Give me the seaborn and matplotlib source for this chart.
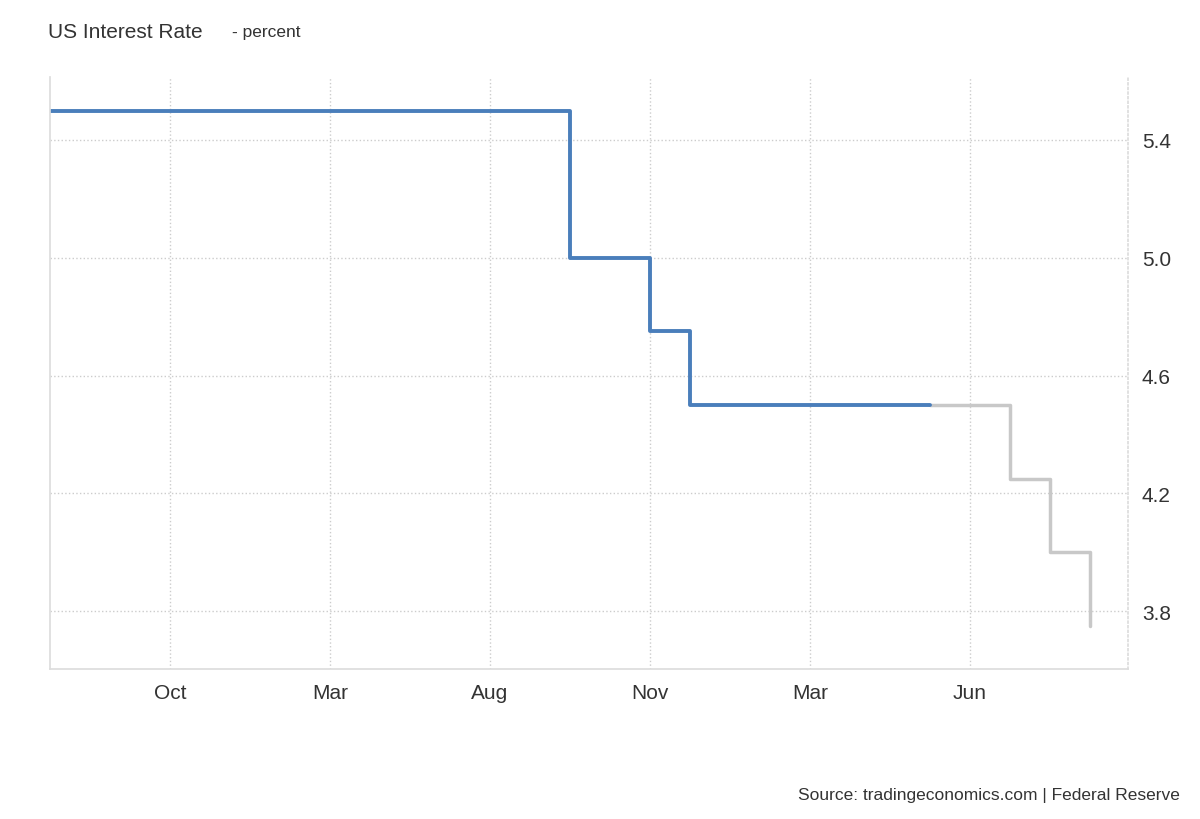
import numpy as np
import pandas as pd
import matplotlib
matplotlib.use("Agg")
import matplotlib.pyplot as plt
import seaborn as sns

# equally spaced observations (FOMC meetings), index positions
actual_idx = list(range(0, 23))
actual_rate = [5.5] * 13 + [5.0, 5.0, 4.75] + [4.5] * 7
forecast_idx = [22, 23, 24, 25, 26]
forecast_rate = [4.5, 4.5, 4.25, 4.0, 3.75]
tick_pos = [3, 7, 11, 15, 19, 23]
tick_labels = ["Oct", "Mar", "Aug", "Nov", "Mar", "Jun"]
y_ticks = [3.8, 4.2, 4.6, 5.0, 5.4]

sns.set_theme(style="white", font="Liberation Sans")
fig = plt.figure(figsize=(12, 8.2), dpi=100)
ax = fig.add_axes([50 / 1200, 1 - 670 / 820, (1128 - 50) / 1200, (670 - 78) / 820])

df_a = pd.DataFrame({"i": actual_idx, "rate": actual_rate})
df_f = pd.DataFrame({"i": forecast_idx, "rate": forecast_rate})
sns.lineplot(data=df_f, x="i", y="rate", ax=ax, color="#c8c8c8", linewidth=2.5,
             drawstyle="steps-post")
sns.lineplot(data=df_a, x="i", y="rate", ax=ax, color="#4a7ebb", linewidth=2.8,
             drawstyle="steps-post")

ax.set_xlim(0, 26.95)
ax.set_ylim(3.603, 5.614)
ax.set_xticks(tick_pos)
ax.set_xticklabels(tick_labels, fontsize=15, color="#333333")
ax.set_yticks(y_ticks)
ax.set_yticklabels([f"{v:.1f}" for v in y_ticks], fontsize=15, color="#333333")
ax.yaxis.tick_right()
ax.set_xlabel("")
ax.set_ylabel("")
ax.grid(True, linestyle=":", color="#cccccc", linewidth=1)
ax.tick_params(axis="both", length=0, pad=10)
for s in ["top"]:
    ax.spines[s].set_visible(False)
ax.spines["right"].set_color("#dddddd")
ax.spines["right"].set_linestyle(":")
ax.spines["left"].set_color("#dddddd")
ax.spines["bottom"].set_color("#dddddd")

fig.text(48 / 1200, 1 - 32 / 820, "US Interest Rate", fontsize=15, color="#333333", va="center")
fig.text(232 / 1200, 1 - 33 / 820, "- percent", fontsize=12.5, color="#333333", va="center")
fig.text(1180 / 1200, 1 - 796 / 820, "Source: tradingeconomics.com | Federal Reserve",
         fontsize=12.5, color="#333333", ha="right", va="center")

fig.savefig("out.png", dpi=100)
